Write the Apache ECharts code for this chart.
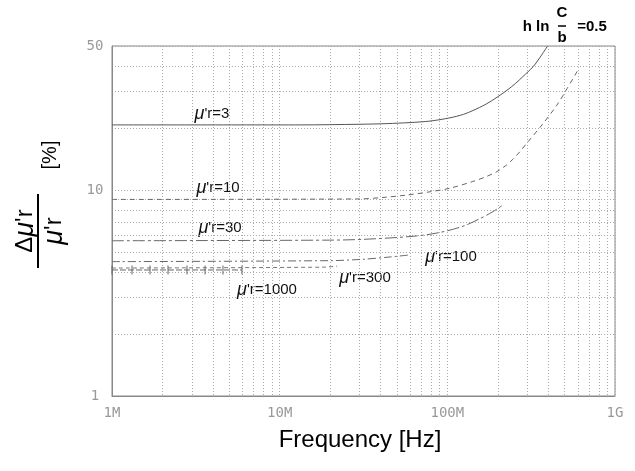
<!DOCTYPE html>
<html>
<head>
<meta charset="utf-8">
<script src="https://cdn.jsdelivr.net/npm/echarts@6/dist/echarts.min.js"></script>
<style>html,body{margin:0;padding:0;background:#fff;}#c{width:635px;height:471px;}</style>
</head>
<body>
<div id="c"></div>
<script>
// Frequency in MHz, relative change in %
const xTickLabels = [1, 10, 100, 1000];
const yTickLabels = [1, 10, 50];
const xGridValues = [1,2,3,4,5,6,7,8,9,10,20,30,40,50,60,70,80,90,100,200,300,400,500,600,700,800,900,1000];
const yGridValues = [1,2,3,4,5,6,7,8,9,10,20,30,40,50];

const freq3  = [1, 13.2, 30, 43.6, 60, 78.8, 103.6, 125, 142, 170, 198, 227, 255, 282, 325, 365, 396];
const val3   = [20.7, 20.7, 20.85, 21.0, 21.25, 21.6, 22.4, 23.3, 24.3, 26.1, 28.2, 30.5, 32.9, 35.5, 39.7, 45.2, 50];

const freq10 = [1, 30.1, 41.3, 57.4, 78.8, 103.6, 142, 170, 198, 225, 246, 270, 302, 367, 450, 517, 601];
const val10  = [9.0, 9.05, 9.2, 9.45, 9.8, 10.2, 11.0, 11.6, 12.3, 13.2, 14.1, 15.3, 17.1, 20.7, 25.8, 31.0, 38.2];

const freq30 = [1, 19.9, 31.4, 62.4, 90.3, 124, 156, 187, 215];
const val30  = [5.67, 5.71, 5.76, 5.96, 6.22, 6.67, 7.25, 7.85, 8.46];

const freq100 = [1, 19.9, 31.4, 45.5, 59.8];
const val100  = [4.49, 4.54, 4.61, 4.73, 4.84];

const freq300 = [1, 18, 22];
const val300  = [4.18, 4.22, 4.27];

const freq1000 = [1, 1.316, 1.685, 2.158, 2.80, 3.59, 4.59, 5.96];
const val1000  = [4.09, 4.09, 4.09, 4.09, 4.09, 4.09, 4.09, 4.09];

const seriesNames = ["μ'r=3", "μ'r=10", "μ'r=30", "μ'r=100", "μ'r=300", "μ'r=1000"];

function pairs(xs, ys){ return xs.map((x,i)=>[x, ys[i]]); }

const chart = echarts.init(document.getElementById('c'), null, {renderer:'canvas'});
const lineCol = '#555';
const monoFont = '"DejaVu Sans Mono", monospace';

function lbl(text, x, y){
  const rest = text.slice(1);
  return {type:'text', x:x, y:y, style:{
    text:'{m|μ}{r|' + rest + '}',
    rich:{ m:{fontStyle:'italic', fontSize:18, fontFamily:'Liberation Sans', fill:'#111'},
           r:{fontSize:15, fontFamily:'Liberation Sans', fill:'#111'} },
    align:'center', verticalAlign:'middle'
  }};
}

chart.setOption({
  animation:false,
  grid:{left:112, right:20, top:46, bottom:75, show:true, borderColor:'#888', borderWidth:1},
  xAxis:{
    type:'log', logBase:10, min:1, max:1000,
    axisLine:{show:true, lineStyle:{color:'#888'}},
    axisTick:{show:false, customValues:xGridValues},
    axisLabel:{customValues:xTickLabels, color:'#999', fontFamily:monoFont, fontSize:14, margin:10,
      formatter:v => v>=1000 ? (v/1000)+'G' : v+'M'},
    splitLine:{show:true, lineStyle:{color:'#aaa', type:[1,2], width:1}}
  },
  yAxis:{
    type:'log', logBase:10, min:1, max:50,
    axisLine:{show:true, lineStyle:{color:'#888'}},
    axisTick:{show:false, customValues:yGridValues},
    axisLabel:{customValues:yTickLabels, color:'#999', fontFamily:monoFont, fontSize:14, margin:17, align:'center'},
    splitLine:{show:true, lineStyle:{color:'#aaa', type:[1,2], width:1}}
  },
  series:[
    {name:seriesNames[0], type:'line', data:pairs(freq3,val3), smooth:0.3, showSymbol:false,
      lineStyle:{color:lineCol, width:1}},
    {name:seriesNames[1], type:'line', data:pairs(freq10,val10), smooth:0.3, showSymbol:false,
      lineStyle:{color:'#666', width:1, type:[5,4]}},
    {name:seriesNames[2], type:'line', data:pairs(freq30,val30), smooth:0.3, showSymbol:false,
      lineStyle:{color:'#666', width:1, type:[12,3,3,3]}},
    {name:seriesNames[3], type:'line', data:pairs(freq100,val100), smooth:0.3, showSymbol:false,
      lineStyle:{color:'#666', width:1, type:[8,3,2,3]}},
    {name:seriesNames[4], type:'line', data:pairs(freq300,val300), smooth:0.3, showSymbol:false,
      lineStyle:{color:'#777', width:1, type:[4,3]}},
    {name:seriesNames[5], type:'line', data:pairs(freq1000,val1000), showSymbol:true,
      symbol:'rect', symbolSize:[1,9], itemStyle:{color:'#666'},
      lineStyle:{color:'#666', width:1, type:[6,2]}}
  ],
  graphic:[
    lbl(seriesNames[0], 212, 114),
    lbl(seriesNames[1], 218, 188),
    lbl(seriesNames[2], 220, 228),
    lbl(seriesNames[3], 451, 257),
    lbl(seriesNames[4], 365, 278),
    lbl(seriesNames[5], 267, 290),
    // title  h ln C/b = 0.5
    {type:'text', x:536, y:27, style:{text:'h ln', font:'bold 15px "Liberation Sans"', fill:'#000', align:'center', verticalAlign:'middle'}},
    {type:'text', x:562, y:13, style:{text:'C', font:'bold 15px "Liberation Sans"', fill:'#000', align:'center', verticalAlign:'middle'}},
    {type:'line', shape:{x1:558, y1:26, x2:566, y2:26}, style:{stroke:'#000', lineWidth:1.5}},
    {type:'text', x:562, y:38, style:{text:'b', font:'bold 15px "Liberation Sans"', fill:'#000', align:'center', verticalAlign:'middle'}},
    {type:'text', x:592, y:27, style:{text:'=0.5', font:'bold 15px "Liberation Sans"', fill:'#000', align:'center', verticalAlign:'middle'}},
    // x axis title
    {type:'text', x:360, y:440, style:{text:'Frequency [Hz]', font:'24px "Liberation Sans"', fill:'#000', align:'center', verticalAlign:'middle'}},
    // y axis title (rotated)
    {type:'group', x:38, y:231, rotation:Math.PI/2, children:[
      {type:'text', x:0, y:-13, style:{text:'{d|Δ}{m|μ}{r|\'r}', rich:{
          d:{fontSize:24, fontFamily:'Liberation Sans', fill:'#000'},
          m:{fontSize:27, fontStyle:'italic', fontFamily:'Liberation Sans', fill:'#000'},
          r:{fontSize:24, fontFamily:'Liberation Sans', fill:'#000'}},
        align:'center', verticalAlign:'middle'}},
      {type:'line', shape:{x1:-37, y1:0, x2:37, y2:0}, style:{stroke:'#000', lineWidth:2}},
      {type:'text', x:0, y:16, style:{text:'{m|μ}{r|\'r}', rich:{
          m:{fontSize:27, fontStyle:'italic', fontFamily:'Liberation Sans', fill:'#000'},
          r:{fontSize:24, fontFamily:'Liberation Sans', fill:'#000'}},
        align:'center', verticalAlign:'middle'}},
      {type:'text', x:76, y:12, style:{text:'[%]', font:'20px "Liberation Sans"', fill:'#000', align:'center', verticalAlign:'middle'}}
    ]}
  ]
});
</script>
</body>
</html>
